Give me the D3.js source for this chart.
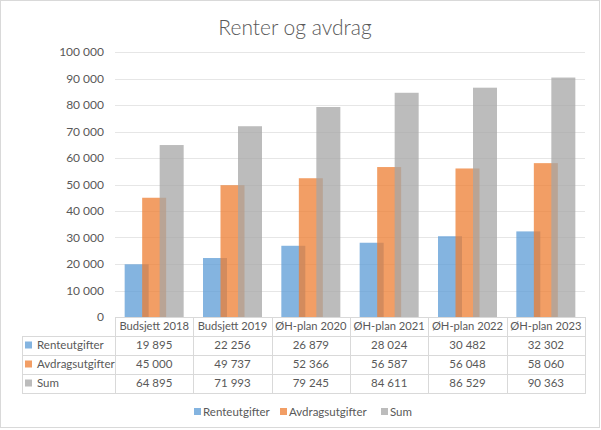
<!DOCTYPE html>
<html><head><meta charset="utf-8">
<script src="https://cdn.jsdelivr.net/npm/d3@7"></script>
<style>
html,body{margin:0;padding:0;background:#fff;}
svg{display:block;font-family:Lato,"Open Sans",sans-serif;}
</style></head>
<body>
<svg id="chart" width="601" height="430"></svg>
<script>
const categories = ["Budsjett 2018","Budsjett 2019","ØH-plan 2020","ØH-plan 2021","ØH-plan 2022","ØH-plan 2023"];
const seriesNames = ["Renteutgifter","Avdragsutgifter","Sum"];
const renteutgifter = [19895,22256,26879,28024,30482,32302];
const avdragsutgifter = [45000,49737,52366,56587,56048,58060];
const sumValues = [64895,71993,79245,84611,86529,90363];
const yTicks = [0,10000,20000,30000,40000,50000,60000,70000,80000,90000,100000];
const colors = ["#5B9BD5","#ED7D31","#A5A5A5"];
const title = "Renter og avdrag";

const seriesValues = [renteutgifter, avdragsutgifter, sumValues];
const loc = d3.formatLocale({decimal:",", thousands:" ", grouping:[3], currency:["",""]});
const fmt = loc.format(",d");

const svg = d3.select("#chart");
const textColor = "#595959";
const lineColor = "#d9d9d9";

// outer border
svg.append("rect").attr("x",0.5).attr("y",0.5).attr("width",599).attr("height",427)
  .attr("fill","#fff").attr("stroke",lineColor);

// title
svg.append("text").attr("x",295).attr("y",35).attr("text-anchor","middle")
  .attr("font-size",21).attr("fill",textColor).attr("font-weight",300).text(title);

const x = d3.scaleBand().domain(categories).range([115,585]).paddingInner(0).paddingOuter(0);
const y = d3.scaleLinear().domain([0,100000]).range([317,52]);
const xs = d3.scalePoint().domain(seriesNames).range([-17.5,17.5]);
const barW = 24;

// gridlines
svg.append("g").selectAll("line").data(yTicks.filter(d=>d>0)).join("line")
  .attr("x1",115).attr("x2",585).attr("y1",d=>Math.round(y(d))+0.5).attr("y2",d=>Math.round(y(d))+0.5)
  .attr("stroke","#e6e6e6").attr("stroke-width",1);

// y axis labels
const yAxis = d3.axisLeft(y).tickValues(yTicks).tickFormat(fmt).tickSize(0).tickPadding(0);
const ya = svg.append("g").attr("transform","translate(104,0)").call(yAxis);
ya.select(".domain").remove();
ya.selectAll("text").attr("font-size",12).attr("fill",textColor).attr("font-family","Lato,'Open Sans',sans-serif");

// bars
seriesNames.forEach((s,i)=>{
  svg.append("g").selectAll("rect").data(categories).join("rect")
    .attr("x",(c)=>x(c)+x.bandwidth()/2+xs(s)-barW/2)
    .attr("width",barW)
    .attr("y",(c,j)=>y(seriesValues[i][j]))
    .attr("height",(c,j)=>y(0)-y(seriesValues[i][j]))
    .attr("fill",colors[i]).attr("fill-opacity",0.75);
});

// table
const tableLeft = 22, rowTop = 317, headerH = 18.5, rowH = 19;
const rowYs = [rowTop, rowTop+headerH, rowTop+headerH+rowH, rowTop+headerH+2*rowH, rowTop+headerH+3*rowH];
const tg = svg.append("g");
tg.append("line").attr("x1",115).attr("x2",585).attr("y1",rowYs[0]+0.5).attr("y2",rowYs[0]+0.5).attr("stroke",lineColor);
rowYs.slice(1).forEach(yy=>{
  tg.append("line").attr("x1",tableLeft).attr("x2",585).attr("y1",Math.round(yy)+0.5).attr("y2",Math.round(yy)+0.5).attr("stroke",lineColor);
});
tg.append("line").attr("x1",tableLeft+0.5).attr("x2",tableLeft+0.5).attr("y1",Math.round(rowYs[1])).attr("y2",Math.round(rowYs[4])+1).attr("stroke",lineColor);
const vx = categories.map(c=>x(c)).concat([585]);
vx.forEach(v=>{
  tg.append("line").attr("x1",Math.round(v)+0.5).attr("x2",Math.round(v)+0.5).attr("y1",rowTop).attr("y2",Math.round(rowYs[4])+1).attr("stroke",lineColor);
});
tg.selectAll("text.hdr").data(categories).join("text").attr("class","hdr")
  .attr("x",c=>x(c)+x.bandwidth()/2).attr("y",rowYs[0]+headerH/2+4)
  .attr("text-anchor","middle").attr("font-size",11.2).attr("fill",textColor).text(c=>c);
seriesNames.forEach((s,i)=>{
  const cy = rowYs[i+1]+rowH/2;
  tg.append("rect").attr("x",25).attr("y",cy-3.5).attr("width",7).attr("height",7).attr("fill",colors[i]).attr("fill-opacity",0.75);
  tg.append("text").attr("x",37).attr("y",cy+4).attr("font-size",11.5).attr("fill",textColor).text(s);
  tg.selectAll(null).data(categories).join("text")
    .attr("x",c=>x(c)+x.bandwidth()/2).attr("y",cy+4)
    .attr("text-anchor","middle").attr("font-size",11.5).attr("fill",textColor)
    .text((c,j)=>fmt(seriesValues[i][j]));
});

// legend
const legendItems = [{n:"Renteutgifter",x:194},{n:"Avdragsutgifter",x:280},{n:"Sum",x:381}];
legendItems.forEach((li,i)=>{
  svg.append("rect").attr("x",li.x).attr("y",408).attr("width",7).attr("height",7).attr("fill",colors[i]).attr("fill-opacity",0.75);
  svg.append("text").attr("x",li.x+9).attr("y",415.5).attr("font-size",11.5).attr("fill",textColor).text(seriesNames[i]);
});
</script>
</body></html>
